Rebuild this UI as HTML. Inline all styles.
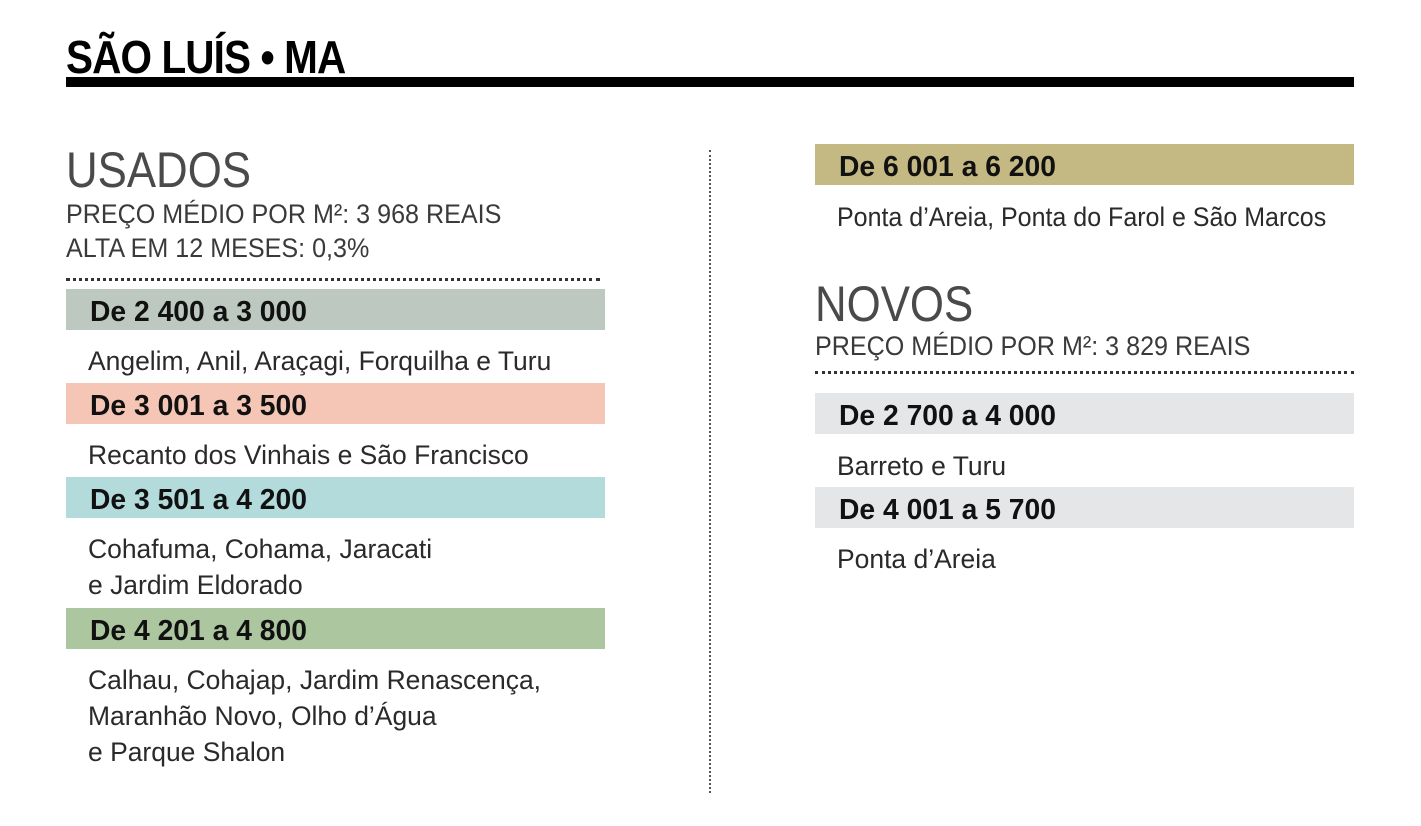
<!DOCTYPE html>
<html><head><meta charset="utf-8"><style>
body{margin:0;width:1421px;height:826px;background:#fff;position:relative;overflow:hidden;font-family:"Liberation Sans",sans-serif;color:#222}
div{position:absolute;white-space:nowrap}
.t{font-size:27px;line-height:32px;color:#2a2a2a;transform:scaleX(0.98);transform-origin:0 0}
.b{height:41px;font-weight:bold;font-size:29px;line-height:47px;color:#111;box-sizing:border-box;padding-left:24px}
.b span{display:inline-block;transform:scaleX(0.975);transform-origin:0 0}
.h{font-size:50px;line-height:50px;color:#4a4a4a;transform:scaleX(0.876);transform-origin:0 0}
.s{font-size:27px;line-height:34px;color:#3a3a3a;transform:scaleX(0.93);transform-origin:0 0}
.dl{height:0;border-top:3px dotted #333}
</style></head><body>
<div style="left:66px;top:29px;font-size:46px;font-weight:bold;line-height:56px;color:#000;letter-spacing:-1px;transform:scaleX(0.88);transform-origin:0 0">SÃO LUÍS • MA</div>
<div style="left:66px;top:77px;width:1288px;height:10px;background:#000"></div>

<div class="h" style="left:66px;top:145px">USADOS</div>
<div class="s" style="left:66px;top:197px">PREÇO MÉDIO POR M²: 3 968 REAIS</div>
<div class="s" style="left:66px;top:231px">ALTA EM 12 MESES: 0,3%</div>
<div class="dl" style="left:66px;top:278px;width:534px"></div>

<div class="b" style="left:66px;top:289px;width:539px;background:#bdc9c0"><span>De 2 400 a 3 000</span></div>
<div class="t" style="left:88px;top:345px">Angelim, Anil, Araçagi, Forquilha e Turu</div>
<div class="b" style="left:66px;top:383px;width:539px;background:#f5c6b5"><span>De 3 001 a 3 500</span></div>
<div class="t" style="left:88px;top:439px">Recanto dos Vinhais e São Francisco</div>
<div class="b" style="left:66px;top:477px;width:539px;background:#b3dbdb"><span>De 3 501 a 4 200</span></div>
<div class="t" style="left:88px;top:533px">Cohafuma, Cohama, Jaracati</div>
<div class="t" style="left:88px;top:569px">e Jardim Eldorado</div>
<div class="b" style="left:66px;top:608px;width:539px;background:#acc7a0"><span>De 4 201 a 4 800</span></div>
<div class="t" style="left:88px;top:664px">Calhau, Cohajap, Jardim Renascença,</div>
<div class="t" style="left:88px;top:700px">Maranhão Novo, Olho d’Água</div>
<div class="t" style="left:88px;top:736px">e Parque Shalon</div>

<div style="left:709px;top:150px;width:0;height:643px;border-left:2px dotted #555"></div>

<div class="b" style="left:815px;top:144px;width:539px;background:#c4b883"><span>De 6 001 a 6 200</span></div>
<div class="t" style="left:837px;top:201px;transform:scaleX(0.926)">Ponta d’Areia, Ponta do Farol e São Marcos</div>
<div class="h" style="left:815px;top:279px">NOVOS</div>
<div class="s" style="left:815px;top:329px">PREÇO MÉDIO POR M²: 3 829 REAIS</div>
<div class="dl" style="left:815px;top:371px;width:539px"></div>
<div class="b" style="left:815px;top:393px;width:539px;background:#e5e6e8"><span>De 2 700 a 4 000</span></div>
<div class="t" style="left:837px;top:450px">Barreto e Turu</div>
<div class="b" style="left:815px;top:487px;width:539px;background:#e5e6e8"><span>De 4 001 a 5 700</span></div>
<div class="t" style="left:837px;top:543px">Ponta d’Areia</div>
</body></html>
